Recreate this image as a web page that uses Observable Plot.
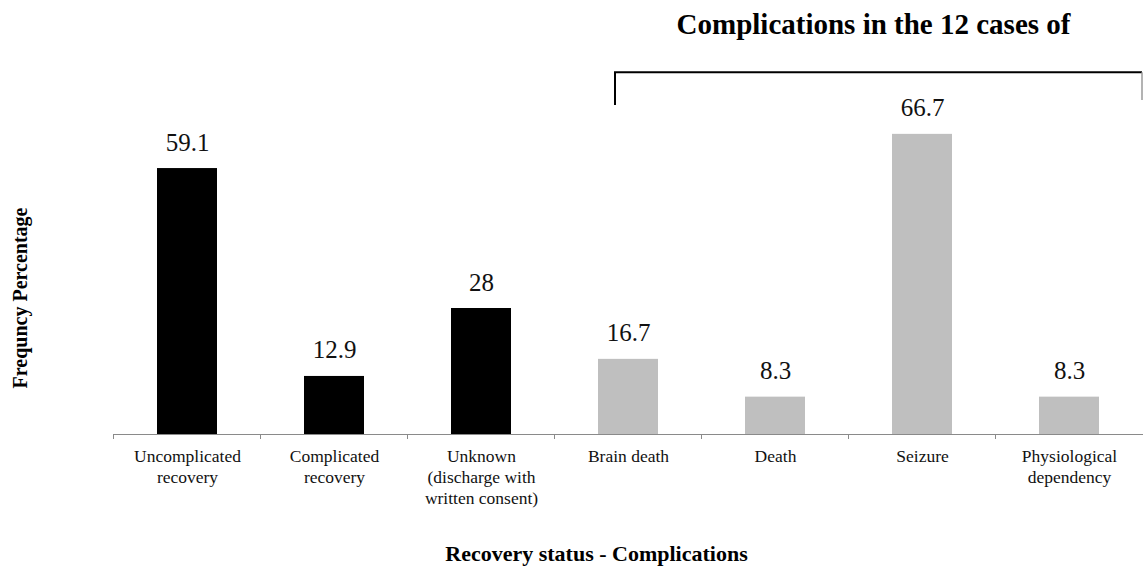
<!DOCTYPE html>
<html>
<head>
<meta charset="utf-8">
<script src="https://cdn.jsdelivr.net/npm/d3@7"></script>
<script src="https://cdn.jsdelivr.net/npm/@observablehq/plot@0.6"></script>
<style>
  html, body { margin: 0; padding: 0; background: #fff; }
  #chart svg { display: block; }
</style>
</head>
<body>
<div id="chart"></div>
<script>
const categories = ["Uncomplicated recovery", "Complicated recovery", "Unknown (discharge with written consent)", "Brain death", "Death", "Seizure", "Physiological dependency"];
const tickLabels = ["Uncomplicated\nrecovery", "Complicated\nrecovery", "Unknown\n(discharge with\nwritten consent)", "Brain death", "Death", "Seizure", "Physiological\ndependency"];
const values = [59.1, 12.9, 28, 16.7, 8.3, 66.7, 8.3];
const valueLabels = ["59.1", "12.9", "28", "16.7", "8.3", "66.7", "8.3"];
const groups = ["Recovery", "Recovery", "Recovery", "Complication", "Complication", "Complication", "Complication"];
const bracketCategories = ["Brain death", "Physiological dependency"];
const titleText = "Complications in the 12 cases of";
const yTitle = "Frequncy Percentage";
const xTitle = "Recovery status - Complications";

const data = categories.map((c, i) => ({category: c, value: values[i], label: valueLabels[i], group: groups[i]}));
const labelOf = new Map(categories.map((c, i) => [c, tickLabels[i]]));
const serif = "'Liberation Serif', 'Times New Roman', serif";

const W = 1143, H = 567, mL = 113, mR = 0, mT = 119, mB = 133;

// boundary ticks and bracket annotation, positioned via the scales
function annotations(index, scales, values, dimensions) {
  const g = d3.create("svg:g");
  const x = scales.x, y = scales.y;
  const step = x.step ? x.step() : (dimensions.width - mL - mR) / categories.length;
  const bw = x.bandwidth ? x.bandwidth() : 0;
  const y0 = y(0);
  categories.forEach((c) => {
    const bx = x(c) + bw / 2 - step / 2;
    g.append("line").attr("x1", bx).attr("x2", bx).attr("y1", y0).attr("y2", y0 + 5)
      .attr("stroke", "#8a8a8a").attr("stroke-width", 1);
  });
  const left = x(bracketCategories[0]) + bw / 2 - 13;
  const right = dimensions.width - dimensions.marginRight - 1;
  const top = y(80.4), bottom = y(73.1);
  g.append("path").attr("d", `M${left},${bottom}V${top}H${right}`)
    .attr("fill", "none").attr("stroke", "#000").attr("stroke-width", 2);
  g.append("line").attr("x1", right).attr("x2", right).attr("y1", top).attr("y2", y(74.2))
    .attr("stroke", "#9a9a9a").attr("stroke-width", 1.5);
  return g.node();
}

const chart = Plot.plot({
  width: W,
  height: H,
  marginLeft: mL,
  marginRight: mR,
  marginTop: mT,
  marginBottom: mB,
  style: {fontFamily: serif, background: "#fff", color: "#000", overflow: "visible"},
  x: {domain: categories, paddingInner: 0.59, paddingOuter: 0.295, axis: null, label: null},
  y: {domain: [0, 70], axis: null, label: null},
  color: {domain: ["Recovery", "Complication"], range: ["#000000", "#bfbfbf"]},
  marks: [
    Plot.barY(data, {x: "category", y: "value", fill: "group"}),
    Plot.ruleY([0], {stroke: "#8a8a8a", strokeWidth: 1.2}),
    annotations,
    Plot.axisX({
      label: null,
      tickSize: 0,
      tickPadding: 13,
      fontSize: 17.5,
      fontFamily: serif,
      lineHeight: 1.2,
      tickFormat: (d) => labelOf.get(d),
      fill: "#111",
      textAnchor: "middle"
    }),
    Plot.text(data, {x: "category", y: "value", text: "label", dy: -26, lineAnchor: "middle", fontSize: 25, fontFamily: serif, fill: "#111"}),
    Plot.text([titleText], {frameAnchor: "top", textAnchor: "middle", dx: 245, dy: -95, lineAnchor: "middle", fontSize: 29, fontFamily: serif, fontWeight: "bold", fill: "#000"}),
    Plot.text([yTitle], {frameAnchor: "left", textAnchor: "middle", dx: -93, dy: 21, rotate: -90, lineAnchor: "middle", fontSize: 20, fontFamily: serif, fontWeight: "bold", fill: "#000"}),
    Plot.text([xTitle], {frameAnchor: "bottom", textAnchor: "middle", dx: -32, dy: 119, lineAnchor: "middle", fontSize: 22, fontFamily: serif, fontWeight: "bold", fill: "#000"})
  ]
});
document.getElementById("chart").append(chart);
</script>
</body>
</html>
